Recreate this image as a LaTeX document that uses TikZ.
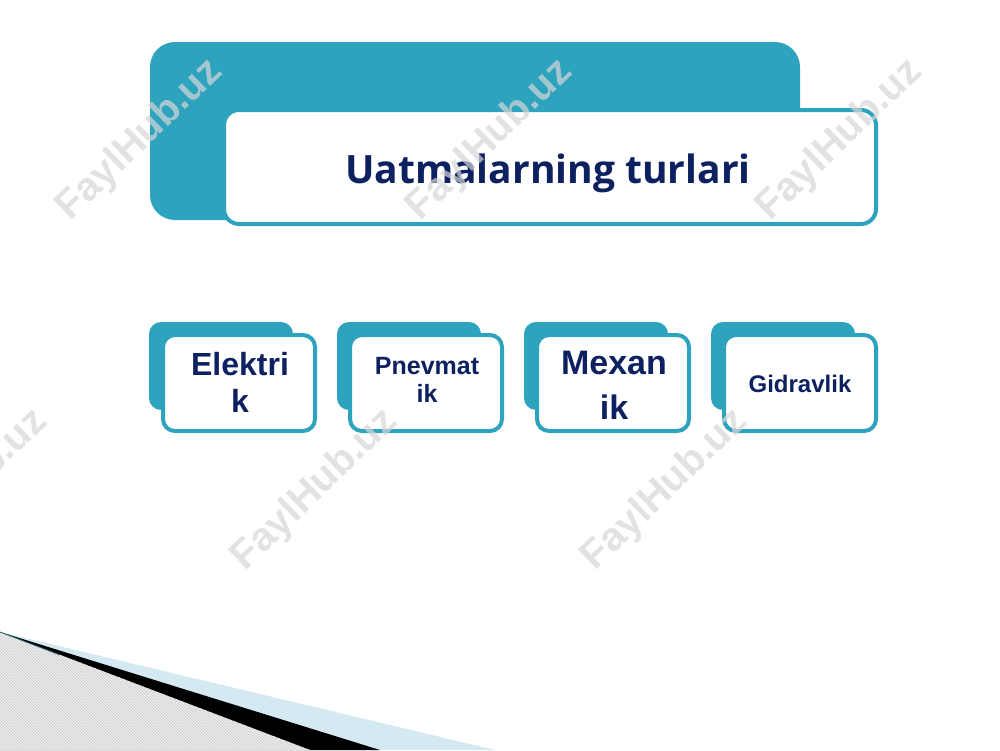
\documentclass[tikz,border=0pt]{standalone}
\usepackage{fontspec}
\setmainfont{Liberation Sans}
\newfontfamily\titlefont{Open Sans}
\usetikzlibrary{patterns}
\definecolor{tealc}{RGB}{46,163,190}
\definecolor{navyc}{RGB}{13,32,96}
\definecolor{bandc}{RGB}{212,233,241}
\definecolor{wmc}{RGB}{215,215,215}
\tikzset{
  backbox/.style={fill=tealc, rounded corners=12pt},
  frontbox/.style={draw=tealc, line width=4pt, fill=white, rounded corners=12pt,
    minimum width=152pt, minimum height=96pt, inner sep=0pt},
  boxtext/.style={text=navyc, align=center, inner sep=0pt},
  wmark/.style={text=wmc, opacity=0.7, rotate=44, font=\bfseries\fontsize{40}{44}\selectfont}
}
\begin{document}
\begin{tikzpicture}[x=1pt,y=-1pt]
\useasboundingbox (0,0) rectangle (1000,750);
\fill[white] (0,0) rectangle (1000,750);
% title
\fill[tealc, rounded corners=25pt] (150,42) rectangle (800,220);
\node[draw=tealc, line width=4pt, fill=white, rounded corners=15pt,
  minimum width=652pt, minimum height=114pt, inner sep=0pt] (titlebox) at (550,167) {};
\node[text=navyc, anchor=base, font=\titlefont\bfseries\fontsize{39}{44}\selectfont] (title) at (548,183) {Uatmalarning turlari};
% small boxes
\fill[backbox] (149,322) rectangle (293,410);
\node[frontbox] (b1) at (239,383) {};
\node[boxtext, font=\bfseries\fontsize{32}{37}\selectfont] (t1) at (240,382) {Elektri\\k};
\fill[backbox] (337,322) rectangle (481,410);
\node[frontbox] (b2) at (426,383) {};
\node[boxtext, font=\bfseries\fontsize{25}{28}\selectfont] (t2) at (427,380) {Pnevmat\\ik};
\fill[backbox] (524,322) rectangle (668,410);
\node[frontbox] (b3) at (613,383) {};
\node[boxtext, font=\bfseries\fontsize{34}{45}\selectfont] (t3) at (614,385) {Mexan\\ik};
\fill[backbox] (711,322) rectangle (855,410);
\node[frontbox] (b4) at (800,383) {};
\node[boxtext, font=\bfseries\fontsize{24}{28}\selectfont] (t4) at (800,383.5) {Gidravlik};
% bottom decoration
\fill[bandc] (0,632) -- (495,750) -- (0,750) -- cycle;
\fill[black] (0,632) -- (380,750) -- (0,750) -- cycle;
\fill[gray!15] (0,632) -- (310,750) -- (0,750) -- cycle;
\fill[pattern=north west lines, pattern color=gray!40] (0,632) -- (310,750) -- (0,750) -- cycle;
\draw[tealc!60!black, line width=0.8pt] (0,632) -- (60,655);
% watermarks
\node[wmark] (w1) at (140,140) {FaylHub.uz};
\node[wmark] (w2) at (490,140) {FaylHub.uz};
\node[wmark] (w3) at (840,140) {FaylHub.uz};
\node[wmark] (w4) at (-35,490) {FaylHub.uz};
\node[wmark] (w5) at (315,490) {FaylHub.uz};
\node[wmark] (w6) at (665,490) {FaylHub.uz};
\end{tikzpicture}
\end{document}
